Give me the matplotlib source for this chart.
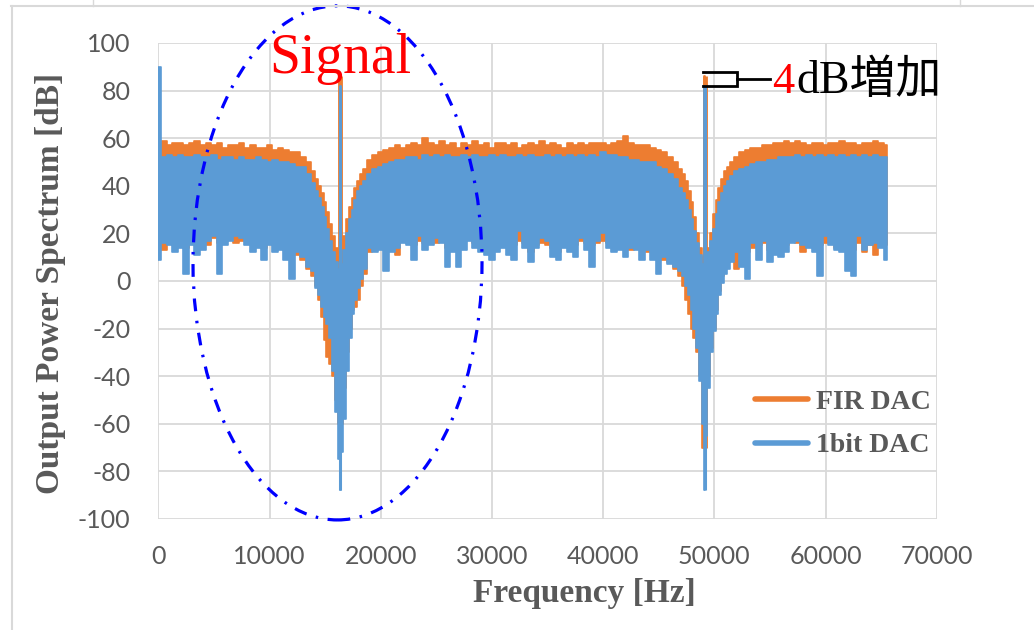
import numpy as np
import matplotlib
matplotlib.use('Agg')
import matplotlib.pyplot as plt
from matplotlib.patches import Ellipse
from matplotlib.lines import Line2D

plt.rcParams['axes.unicode_minus'] = False

# FREQUENCY BINS [Hz] (500 Hz grid, 250 Hz around the two notches, plus the tone bins)
freq = np.concatenate([
    np.arange(0, 14001, 500),
    [14250, 14500, 14750, 15000, 15250, 15500, 15750, 16000, 16250, 16384,
     16500, 16750, 17000, 17250, 17500, 17750, 18000, 18250, 18500],
    np.arange(19000, 47001, 500),
    [47250, 47500, 47750, 48000, 48250, 48500, 48750, 49000, 49152,
     49250, 49500, 49750, 50000, 50250, 50500, 50750, 51000, 51250],
    np.arange(51500, 65501, 500),
    [65536],
])
tone_freq = [16384, 49152]

# FIR DAC - top / bottom of the noisy band [dB]
fir_hi = [
    57, 59, 57, 58, 58, 57, 58, 59, 57, 58, 57, 58, 56, 57, 57, 58, 56, 57, 56, 56,
    57, 55, 56, 55, 54, 54, 52, 50, 46,
    43, 40, 37, 33, 29, 24, 19, 14, 10, 86, 12, 19, 26, 31, 35, 39, 42, 45, 47,
    51, 53, 54, 55, 56, 57, 56, 57, 58, 57, 60, 58, 57, 59, 57, 58, 56, 58, 57,
    59, 57, 58, 56, 58, 58, 57, 58, 56, 57, 58, 57, 59, 57, 58, 57, 56, 58, 57,
    58, 57, 58, 58, 58, 57, 58, 59, 61, 58, 57, 57, 57, 56, 55, 54, 52, 50, 47,
    45, 42, 38, 33, 27, 20, 14, 10, 86, 10, 14, 20, 28, 34, 39, 43, 46, 48,
    50, 52, 54, 55, 56, 56, 57, 57, 58, 58, 59, 58, 59, 58, 57, 58, 58, 57, 58, 58,
    59, 58, 58, 57, 58, 58, 59, 58, 57, 57,
]
fir_lo = [
    14, 13, 17, 15, 16, 14, 17, 15, 16, 15, 18, 16, 17, 18, 16, 17, 18, 16, 15, 14,
    16, 15, 14, 13, 12, 11, 9, 5, 2,
    -2, -8, -15, -25, -32, -35, -40, -50, -60, -70, -60, -45, -30, -20, -12, -11, -8, -2, 3,
    12, 15, 14, 16, 15, 11, 17, 16, 15, 17, 16, 17, 16, 17, 14, 16, 15, 17, 18, 16,
    15, 16, 15, 16, 15, 16, 15, 17, 16, 12, 15, 16, 15, 14, 12, 16, 15, 15, 17, 16,
    15, 16, 17, 16, 15, 16, 15, 13, 15, 14, 12, 12, 11, 9, 8, 5, 2,
    -2, -8, -14, -20, -24, -30, -40, -70, -70, -55, -40, -28, -20, -12, -4, 2, 6, 8,
    9, 5, 10, 12, 14, 15, 16, 13, 15, 17, 15, 18, 16, 12, 16, 17, 15, 16, 17, 14,
    16, 15, 13, 16, 12, 15, 11, 16, 15, 24,
]

# 1bit DAC - top / bottom of the noisy band [dB]
bit_hi = [
    90, 52, 53, 52, 53, 52, 52, 53, 52, 52, 53, 51, 52, 52, 51, 52, 51, 51, 52, 51,
    50, 51, 50, 50, 49, 48, 48, 45, 41,
    38, 35, 31, 27, 22, 17, 12, 8, 5, 82, 7, 13, 20, 26, 30, 34, 38, 40, 42,
    45, 47, 48, 49, 50, 51, 51, 52, 52, 51, 53, 52, 53, 52, 53, 52, 52, 53, 52, 53,
    52, 52, 53, 52, 53, 52, 52, 53, 52, 53, 52, 52, 53, 52, 53, 52, 53, 52, 53, 52,
    53, 52, 54, 53, 53, 52, 52, 51, 51, 50, 50, 50, 48, 47, 45, 43, 39,
    37, 34, 30, 26, 21, 16, 11, 7, 82, 6, 12, 17, 22, 28, 33, 37, 40, 42,
    44, 46, 47, 48, 49, 50, 50, 51, 51, 52, 52, 52, 53, 52, 53, 52, 53, 52, 53, 52,
    53, 52, 53, 52, 53, 52, 53, 52, 52, 52,
]
bit_lo = [
    9, 16, 15, 12, 14, 3, 15, 11, 13, 17, 19, 3, 15, 17, 19, 18, 15, 12, 14, 9,
    15, 12, 13, 9, 1, 12, 10, 6, 4,
    -3, -6, -11, -15, -18, -24, -38, -55, -75, -88, -72, -58, -38, -24, -14, -8, -3, 1, 5,
    14, 12, 13, 4, 12, 14, 16, 15, 9, 19, 13, 15, 18, 16, 6, 12, 6, 13, 17, 14,
    12, 11, 9, 12, 14, 11, 9, 21, 14, 8, 14, 18, 17, 10, 9, 14, 12, 10, 18, 13,
    6, 17, 20, 14, 12, 13, 10, 14, 13, 9, 13, 9, 3, 10, 7, 6, 4,
    2, -2, -6, -12, -20, -28, -42, -60, -88, -65, -45, -30, -21, -14, -6, -1, 3, 5,
    8, 12, 6, 1, 16, 9, 17, 8, 11, 10, 12, 16, 17, 15, 14, 12, 2, 19, 15, 13,
    12, 4, 2, 19, 13, 15, 16, 14, 9, 22,
]

series_names = ['FIR DAC', '1bit DAC']
orange = '#ED7D31'
blue = '#5B9BD5'
gray_txt = '#595959'

assert len(freq) == len(fir_hi) == len(fir_lo) == len(bit_hi) == len(bit_lo)

fig = plt.figure(figsize=(10.34, 6.3), dpi=100)
ax = fig.add_axes([0.1531, 0.1762, 0.7528, 0.7556])

# PLOT BANDS
ax.fill_between(freq, fir_lo, fir_hi, step='mid', color=orange, lw=1.2, zorder=2)
ax.fill_between(freq, bit_lo, bit_hi, step='mid', color=blue, lw=1.2, zorder=3)

# TONE BINS (a bit wider, like the line width in the original)
fl = list(freq)
idx = [fl.index(f) for f in tone_freq]
ax.vlines([freq[i] for i in idx], [fir_lo[i] for i in idx], [fir_hi[i] for i in idx],
          color=orange, lw=3.5, zorder=2.5)
ax.vlines([freq[i] for i in idx], [bit_lo[i] for i in idx], [bit_hi[i] for i in idx],
          color=blue, lw=2.2, zorder=3.5)

ax.set_xlim(0, 70000)
ax.set_ylim(-100, 100)
ax.set_xticks(np.arange(0, 70001, 10000))
ax.set_yticks(np.arange(-100, 101, 20))
ax.grid(True, color='#D9D9D9', lw=1.3)
ax.set_axisbelow(True)
for s in ax.spines.values():
    s.set_visible(False)
ax.tick_params(length=0, labelsize=18, labelcolor=gray_txt)
ax.tick_params(axis='x', pad=19)
ax.tick_params(axis='y', pad=20)
for lab in ax.get_xticklabels() + ax.get_yticklabels():
    lab.set_family('Lato')

ax.set_xlabel('Frequency [Hz]', family='Liberation Serif', fontweight='bold',
              fontsize=24, color=gray_txt, va='top')
ax.xaxis.set_label_coords(0.547, -0.124)
ax.set_ylabel('Output Power Spectrum [dB]', family='Liberation Serif', fontweight='bold',
              fontsize=24, color=gray_txt)
ax.yaxis.set_label_coords(-0.1186, 0.495)

# LEGEND
handles = [Line2D([], [], color=orange, lw=4, solid_capstyle='round'),
           Line2D([], [], color=blue, lw=4, solid_capstyle='round')]
leg = ax.legend(handles, series_names, loc='center right', bbox_to_anchor=(1.0, 0.2),
                frameon=False, handlelength=1.9, handletextpad=0.3, labelspacing=0.65,
                borderaxespad=0.0, borderpad=0.2,
                prop={'family': 'Liberation Serif', 'weight': 'bold', 'size': 20})
for t in leg.get_texts():
    t.set_color(gray_txt)

# SIGNAL ELLIPSE
ell = Ellipse((16115, 7.6), 25990, 216, fill=False, edgecolor='#0000FF', lw=2.3,
              linestyle=(0, (4, 3, 0.8, 3)), clip_on=False, zorder=5)
ax.add_patch(ell)
fig.text(269 / 1034, 1 - 73 / 630, 'Signal', color='#FF0000', fontsize=40,
         family='Liberation Serif', va='baseline', ha='left')

# 4dB BRACKET ON THE SECOND TONE
i2 = idx[1]
top = fir_hi[i2] + 2
bot = bit_hi[i2]
ax.plot([48980, 52040, 52040, 48980], [top, top, bot, bot], color='black', lw=2,
        clip_on=False, zorder=6, solid_joinstyle='miter')
ax.plot([52040, 55000], [(top + bot) / 2, (top + bot) / 2], color='black', lw=2,
        clip_on=False, zorder=6)
fig.text(772 / 1034, 1 - 93 / 630, '4', color='#FF0000', fontsize=32,
         family='Liberation Serif', va='baseline', ha='left')
fig.text(796 / 1034, 1 - 93 / 630, 'dB増加', color='black', fontsize=33,
         family=['Liberation Serif', 'Noto Sans CJK JP'], va='baseline', ha='left')

# CHART FRAME / SHEET CELL LINES
fig.add_artist(Line2D([11 / 1034, 1], [1 - 6 / 630, 1 - 6 / 630], color='#D9D9D9', lw=1.5))
fig.add_artist(Line2D([11.5 / 1034, 11.5 / 1034], [0, 1 - 6 / 630], color='#D9D9D9', lw=1.5))
fig.add_artist(Line2D([93 / 1034, 93 / 1034], [1 - 6 / 630, 1], color='#D9D9D9', lw=1))
fig.add_artist(Line2D([960 / 1034, 960 / 1034], [1 - 6 / 630, 1], color='#D9D9D9', lw=1))

fig.savefig('out.png', dpi=100)
